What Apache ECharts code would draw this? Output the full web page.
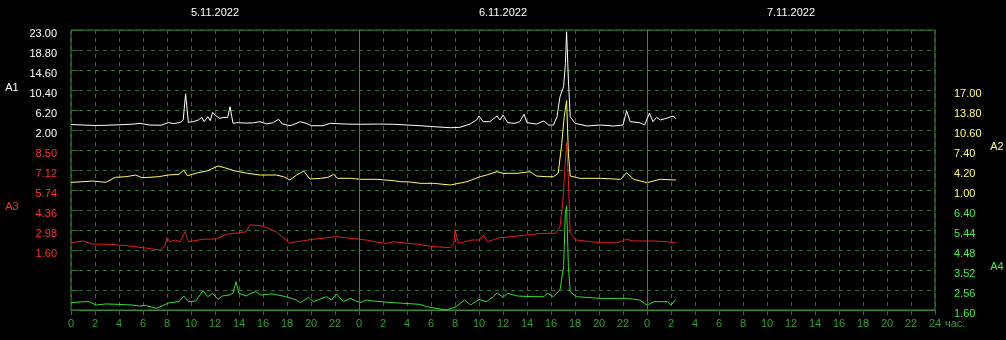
<!DOCTYPE html>
<html><head><meta charset="utf-8">
<script src="https://cdn.jsdelivr.net/npm/echarts@6/dist/echarts.min.js"></script>
<style>html,body{margin:0;padding:0;background:#000;}#c{width:1006px;height:340px;}</style>
</head><body><div id="c"></div>
<script>
// ---- data ----
const dates = ['5.11.2022', '6.11.2022', '7.11.2022'];
const dateHours = [12, 36, 60];
const dayBounds = [24, 48];
const unitLabel = 'час.';
const a1Ticks = [2.00, 6.20, 10.40, 14.60, 18.80, 23.00];
const a3Ticks = [1.60, 2.98, 4.36, 5.74, 7.12, 8.50];
const a2Ticks = [1.00, 4.20, 7.40, 10.60, 13.80, 17.00];
const a4Ticks = [1.60, 2.56, 3.52, 4.48, 5.44, 6.40];
const axisNames = ['A1', 'A2', 'A3', 'A4'];

// [hour, value]
const a1Data = [[0,3.15],[1,3.05],[2,2.95],[3,3.0],[4,3.1],[5,3.2],[5.75,3.4],[6.5,3.05],[7.5,3.0],[8.1,3.55],[8.6,3.35],[9.1,3.6],[9.35,4.1],[9.55,9.6],[9.78,3.62],[10.2,3.75],[10.6,4.1],[10.9,4.66],[11.1,3.75],[11.4,4.8],[11.6,3.96],[11.8,5.72],[12.1,4.94],[12.4,4.45],[12.75,4.66],[13.05,4.58],[13.25,6.9],[13.5,3.4],[13.8,3.53],[14.6,3.45],[15.2,3.5],[15.75,3.75],[16.3,3.3],[16.8,3.5],[17.3,4.25],[17.6,3.3],[18.25,2.9],[18.6,3.2],[19.1,3.75],[19.6,3.4],[20.05,2.9],[21.0,2.9],[21.6,3.4],[22.9,3.25],[24.1,3.2],[25.7,3.25],[26.9,3.2],[28.0,3.05],[29.1,2.9],[30.2,2.7],[31.6,2.48],[32.4,2.56],[33.25,3.26],[33.8,4.1],[34.0,4.94],[34.35,3.75],[34.9,3.75],[35.5,4.94],[35.75,4.1],[36.0,5.15],[36.4,3.53],[37.0,3.4],[37.4,3.75],[37.75,5.3],[38.0,3.53],[38.8,3.26],[39.4,3.9],[39.8,3.05],[40.2,3.05],[40.5,4.8],[40.75,9.0],[41.05,11.1],[41.2,16.0],[41.3,22.64],[41.45,12.5],[41.6,4.8],[42.0,3.4],[43.0,2.84],[44.1,3.05],[45.2,2.84],[46.0,3.05],[46.3,6.05],[46.6,3.75],[47.4,3.53],[47.8,3.05],[48.2,5.5],[48.5,3.75],[48.8,4.66],[49.1,4.1],[49.6,4.45],[50.2,4.94],[50.4,4.37]];
const a2Data = [[0,2.23],[1,2.33],[1.8,2.44],[2.9,2.23],[3.7,3.03],[4.6,3.13],[5.4,3.4],[5.9,2.97],[6.5,3.03],[7.3,3.13],[8.1,3.4],[9.0,3.51],[9.4,4.2],[9.7,3.29],[10.6,3.77],[11.4,4.09],[12.25,4.84],[12.8,4.57],[13.6,4.09],[14.7,3.67],[15.75,3.4],[17.1,3.4],[17.7,3.13],[18.25,2.6],[18.8,3.4],[19.4,4.04],[19.9,2.76],[20.8,2.87],[21.4,3.03],[21.9,3.51],[22.2,2.87],[23.3,2.87],[24.1,2.71],[25.5,2.71],[26.9,2.49],[27.4,2.33],[28.2,2.3],[29.1,2.07],[30.2,2.07],[31.6,1.8],[33.0,2.33],[34.1,3.13],[34.65,3.4],[35.5,3.93],[36.0,3.67],[37.2,3.67],[38.25,3.93],[38.8,3.24],[39.6,3.13],[40.2,3.13],[40.6,3.67],[40.9,8.47],[41.1,12.73],[41.3,15.3],[41.45,6.87],[41.6,3.24],[42.4,2.87],[44.1,2.87],[45.8,2.71],[46.3,3.77],[46.9,2.71],[48.0,2.17],[49.1,2.71],[50.4,2.6]];
const a3Data = [[0,2.1],[1,2.22],[1.8,2.01],[3.2,1.99],[4.6,1.9],[6.0,1.76],[7.4,1.6],[7.8,1.83],[8.0,2.45],[8.25,2.17],[8.7,2.29],[9.1,2.17],[9.5,2.86],[9.8,2.17],[11.0,2.34],[12.1,2.36],[13.0,2.7],[14.1,2.79],[14.6,2.86],[14.9,3.33],[15.75,3.28],[16.3,3.14],[17.1,2.86],[18.25,2.06],[18.8,2.17],[20.2,2.34],[22.1,2.52],[23.25,2.41],[24.6,2.29],[25.75,2.1],[26.3,2.06],[26.9,2.17],[28.0,2.06],[28.8,2.01],[30.2,1.83],[31.6,1.76],[31.9,2.06],[32.0,3.0],[32.3,2.06],[33.4,2.29],[34.0,2.29],[34.4,2.63],[34.7,2.17],[35.7,2.45],[36.8,2.52],[37.9,2.63],[39.3,2.75],[40.4,2.75],[40.75,3.21],[41.0,5.05],[41.2,7.81],[41.3,9.0],[41.45,6.43],[41.6,2.75],[42.1,2.29],[44.1,2.1],[45.5,2.1],[46.3,2.34],[46.9,2.22],[48.6,2.22],[49.7,2.17],[50.4,2.1]];
const a4Data = [[0,1.95],[1,2.0],[1.5,2.0],[2.1,1.84],[2.9,1.89],[4.0,1.87],[5.1,1.84],[5.7,1.79],[6.2,1.82],[7.1,1.68],[8.2,1.95],[9.0,2.0],[9.4,2.27],[9.8,2.0],[10.4,2.03],[11.0,2.53],[11.4,2.24],[11.8,2.4],[12.25,2.11],[12.6,2.27],[13.2,2.32],[13.5,2.4],[13.75,2.96],[14.0,2.4],[14.6,2.27],[15.0,2.4],[15.4,2.48],[15.8,2.32],[16.8,2.37],[17.9,2.24],[18.8,2.08],[19.1,1.95],[19.8,2.21],[20.2,2.0],[21.3,2.24],[21.7,2.08],[22.1,2.37],[22.7,2.0],[23.25,2.16],[24.1,1.95],[24.6,2.08],[25.2,2.03],[26.9,1.95],[29.1,1.87],[29.6,1.76],[31.3,1.6],[32.1,1.76],[32.8,2.08],[33.3,1.84],[34.0,2.11],[34.6,2.0],[35.2,2.24],[35.5,2.43],[36.0,2.21],[36.4,2.4],[37.2,2.27],[38.6,2.24],[39.4,2.24],[39.7,2.4],[40.2,2.24],[40.75,2.56],[41.05,3.68],[41.2,6.32],[41.3,6.6],[41.45,3.68],[41.6,2.48],[42.1,2.24],[44.1,2.16],[46.3,2.16],[47.4,2.08],[48.0,1.84],[48.6,2.0],[49.7,2.0],[50.0,1.84],[50.4,2.11]];

// ---- styles ----
const FONT = '"Liberation Sans", Arial, sans-serif';
const borderCol = '#3b8a3b';
const dashCol = '#2e6e2e';
const xLabCol = '#33a033';
const cWhite = '#ffffff', cYellow = '#ffff80', cRed = '#ff3030', cGreen = '#44ee44';

function valAxis(pos, min, max, ticks, color, margin) {
  return {
    type: 'value', position: pos, min: min, max: max,
    axisLine: {show: false}, axisTick: {show: false}, splitLine: {show: false},
    axisLabel: {
      customValues: ticks, color: color, fontSize: 11, fontFamily: FONT,
      margin: margin, verticalAlign: 'top', lineHeight: 7,
      formatter: v => Number(v).toFixed(2)
    }
  };
}

const chart = echarts.init(document.getElementById('c'), null, {renderer: 'canvas'});
chart.setOption({
  backgroundColor: '#000',
  animation: false,
  grid: {left: 71, top: 30, width: 864, height: 280, show: true, borderColor: borderCol, borderWidth: 1, backgroundColor: 'transparent', containLabel: false},
  xAxis: [
    {
      type: 'value', min: 0, max: 72, interval: 2, position: 'bottom',
      axisLine: {show: true, lineStyle: {color: borderCol}},
      axisTick: {show: true, length: 5, lineStyle: {color: dashCol}},
      axisLabel: {color: xLabCol, fontSize: 11, fontFamily: FONT, margin: 8,
        formatter: v => (v === 72 ? '24' : String(v % 24))},
      splitLine: {show: true, lineStyle: {color: dashCol, type: [4, 4], width: 1}}
    },
    {
      type: 'value', min: 0, max: 72, position: 'top',
      axisLine: {show: false}, axisTick: {show: false}, splitLine: {show: false},
      axisLabel: {customValues: dateHours, color: '#ffffff', fontSize: 11, fontFamily: FONT, margin: 12,
        formatter: v => dates[dateHours.indexOf(v)] || ''}
    }
  ],
  yAxis: [
    {
      type: 'value', min: 0, max: 14, interval: 1, position: 'right',
      axisLine: {show: false},
      axisTick: {show: true, length: 7, lineStyle: {color: dashCol}},
      axisLabel: {show: false},
      splitLine: {show: true, lineStyle: {color: dashCol, type: [4, 4], width: 1}}
    },
    valAxis('left', -35.8, 23, a1Ticks, cWhite, 14),
    valAxis('left', -2.54, 16.78, a3Ticks, cRed, 14),
    valAxis('right', -18.2, 26.6, a2Ticks, cYellow, 19),
    valAxis('right', 1.6, 15.04, a4Ticks, cGreen, 19)
  ],
  graphic: [
    {type: 'text', x: 12, y: 88, style: {text: axisNames[0], fill: cWhite, font: '11px ' + FONT, align: 'center', verticalAlign: 'middle'}},
    {type: 'text', x: 12, y: 207, style: {text: axisNames[2], fill: cRed, font: '11px ' + FONT, align: 'center', verticalAlign: 'middle'}},
    {type: 'text', x: 997, y: 147, style: {text: axisNames[1], fill: cYellow, font: '11px ' + FONT, align: 'center', verticalAlign: 'middle'}},
    {type: 'text', x: 997, y: 267, style: {text: axisNames[3], fill: cGreen, font: '11px ' + FONT, align: 'center', verticalAlign: 'middle'}},
    {type: 'text', x: 945, y: 324, style: {text: unitLabel, fill: xLabCol, font: '11px ' + FONT, align: 'left', verticalAlign: 'middle'}}
  ],
  series: [
    {
      type: 'line', name: 'A4', xAxisIndex: 0, yAxisIndex: 4, data: a4Data,
      showSymbol: false, lineStyle: {color: '#33dd33', width: 1}, itemStyle: {color: '#33dd33'},
      emphasis: {disabled: true}, z: 2,
      markLine: {silent: true, symbol: 'none', label: {show: false},
        lineStyle: {color: borderCol, type: 'solid', width: 1},
        emphasis: {disabled: true},
        data: dayBounds.map(h => ({xAxis: h}))}
    },
    {type: 'line', name: 'A3', xAxisIndex: 0, yAxisIndex: 2, data: a3Data,
      showSymbol: false, lineStyle: {color: '#e02020', width: 1}, itemStyle: {color: '#e02020'}, emphasis: {disabled: true}, z: 3},
    {type: 'line', name: 'A2', xAxisIndex: 0, yAxisIndex: 3, data: a2Data,
      showSymbol: false, lineStyle: {color: '#ffff66', width: 1}, itemStyle: {color: '#ffff66'}, emphasis: {disabled: true}, z: 4},
    {type: 'line', name: 'A1', xAxisIndex: 0, yAxisIndex: 1, data: a1Data,
      showSymbol: false, lineStyle: {color: '#ffffff', width: 1}, itemStyle: {color: '#ffffff'}, emphasis: {disabled: true}, z: 5}
  ]
});
</script>
</body></html>
